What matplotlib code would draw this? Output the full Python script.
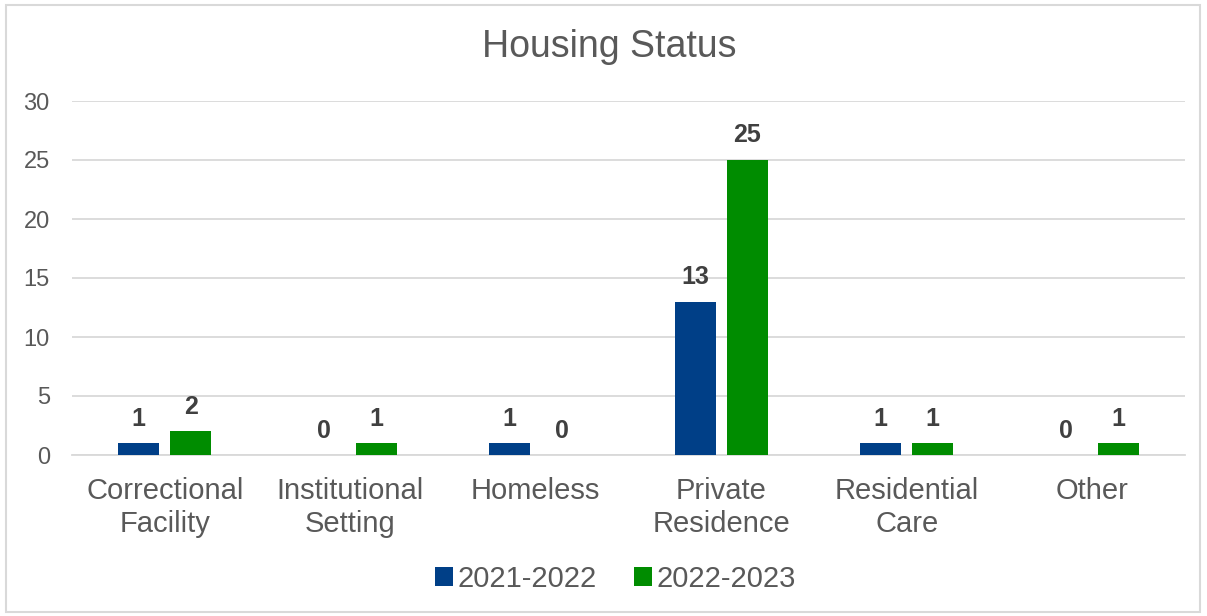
import matplotlib
matplotlib.use("Agg")
import matplotlib.pyplot as plt
import numpy as np
from matplotlib.patches import Rectangle

categories = ["Correctional\nFacility", "Institutional\nSetting", "Homeless",
              "Private\nResidence", "Residential\nCare", "Other"]
series_names = ["2021-2022", "2022-2023"]
values_2021 = [1, 0, 1, 13, 1, 0]
values_2022 = [2, 1, 0, 25, 1, 1]
colors = ["#003F87", "#008C00"]
y_ticks = [0, 5, 10, 15, 20, 25, 30]

plt.rcParams["font.family"] = ["Liberation Sans", "DejaVu Sans"]
text_color = "#595959"

fig = plt.figure(figsize=(12.07, 6.16), dpi=100)
ax = fig.add_axes([72 / 1207, 1 - 455 / 616, 1113 / 1207, 354 / 616])

x = np.arange(len(categories))
width = 0.221
offset = 0.14
for vals, col, name, sign in [(values_2021, colors[0], series_names[0], -1),
                              (values_2022, colors[1], series_names[1], 1)]:
    bars = ax.bar(x + sign * offset, vals, width, color=col, label=name, zorder=3)
    for b, v in zip(bars, vals):
        ax.annotate(f"{v}", (b.get_x() + b.get_width() / 2, v),
                    xytext=(0, 9), textcoords="offset points",
                    ha="center", va="bottom", fontsize=18, fontweight="bold",
                    color="#404040")

ax.set_xlim(-0.5, len(categories) - 0.5)
ax.set_ylim(0, 30)
ax.set_yticks(y_ticks)
ax.set_xticks(x)
ax.set_xticklabels(categories, fontsize=21, color=text_color, linespacing=1.22)
ax.tick_params(axis="y", labelsize=17, colors=text_color, length=0, pad=16)
ax.tick_params(axis="x", length=0, pad=16)
ax.grid(axis="y", color="#D9D9D9", linewidth=1.3, zorder=0)
for s in ["top", "right", "left"]:
    ax.spines[s].set_visible(False)
ax.spines["bottom"].set_color("#D9D9D9")
ax.spines["bottom"].set_linewidth(1.3)

fig.text(0.5 + 6 / 1207, 1 - 47 / 616, "Housing Status", ha="center", va="center",
         fontsize=27, color=text_color)

leg = fig.legend(loc="center", bbox_to_anchor=(0.51, 1 - 579 / 616), ncol=2,
                 frameon=False, fontsize=21, handlelength=0.6, handleheight=0.6,
                 handletextpad=0.15, columnspacing=1.3)
for t in leg.get_texts():
    t.set_color(text_color)

fig.patches.append(Rectangle((6 / 1207, 4 / 616), 1194 / 1207, 607 / 616,
                             transform=fig.transFigure, fill=False,
                             edgecolor="#D9D9D9", linewidth=1.5))

fig.savefig("out.png", dpi=100)
